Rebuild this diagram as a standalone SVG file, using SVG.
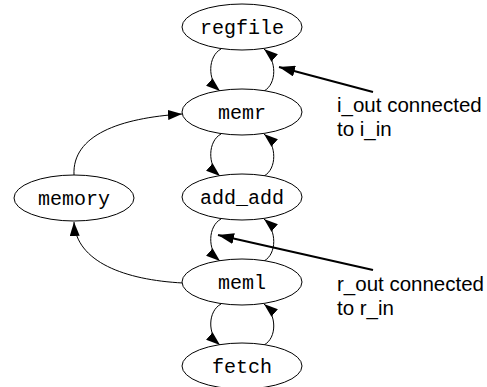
<svg xmlns="http://www.w3.org/2000/svg" width="487" height="387" viewBox="0 0 487 387">
<style>
.node ellipse{fill:#fff;stroke:#000;stroke-width:1}
.node text{font-family:"Liberation Mono","Courier New",monospace;font-size:20px;text-anchor:middle;fill:#000}
.edge{fill:none;stroke:#000;stroke-width:1;marker-end:url(#arr)}
.note{fill:none;stroke:#000;stroke-width:2;marker-end:url(#big)}
.lbl{font-family:"Liberation Sans",Arial,sans-serif;font-size:20.5px;fill:#000}
</style>
<defs>
<marker id="arr" markerUnits="userSpaceOnUse" markerWidth="14" markerHeight="10" refX="14" refY="5" orient="auto"><path d="M0,0 L14,5 L0,10 z" fill="#000"/></marker>
<marker id="big" markerUnits="userSpaceOnUse" markerWidth="16" markerHeight="11" refX="16" refY="5.5" orient="auto"><path d="M0,0 L16,5.5 L0,11 z" fill="#000"/></marker>
</defs>
<rect width="487" height="387" fill="#fff"/>
<g id="connectors">
<path class="edge" d="M221,49 C208,56 207,80 220,91"/>
<path class="edge" d="M264,91 C277,84 277,60 264,49"/>
<path class="edge" d="M221,134 C208,141 207,165 220,176"/>
<path class="edge" d="M264,176 C277,169 277,145 264,134"/>
<path class="edge" d="M221,219 C208,226 207,250 220,261"/>
<path class="edge" d="M264,261 C277,254 277,230 264,219"/>
<path class="edge" d="M221,304 C208,311 207,334 220,345"/>
<path class="edge" d="M264,345 C277,338 277,315 264,304"/>
<path class="edge" d="M74,175 C72,135 120,118 182,114"/>
<path class="edge" d="M183,283 C125,280 76,262 74,222"/>
<path class="note" d="M373,92 L279,67"/>
<path class="note" d="M373,270 L218,235"/>
</g>
<g id="regfile" class="node"><ellipse cx="242" cy="27" rx="60" ry="23"/><text x="242" y="34">regfile</text></g>
<g id="memr" class="node"><ellipse cx="242" cy="112" rx="60" ry="23"/><text x="242" y="119">memr</text></g>
<g id="add_add" class="node"><ellipse cx="242" cy="197" rx="60" ry="23"/><text x="242" y="204">add_add</text></g>
<g id="meml" class="node"><ellipse cx="242" cy="282" rx="60" ry="23"/><text x="242" y="289">meml</text></g>
<g id="fetch" class="node"><ellipse cx="242" cy="366" rx="60" ry="23"/><text x="242" y="373">fetch</text></g>
<g id="memory" class="node"><ellipse cx="74" cy="198" rx="60" ry="23"/><text x="74" y="205">memory</text></g>
<g id="note_i"><text class="lbl" x="337" y="112">i_out connected</text><text class="lbl" x="337" y="136">to i_in</text></g>
<g id="note_r"><text class="lbl" x="337" y="291">r_out connected</text><text class="lbl" x="337" y="315">to r_in</text></g>
</svg>
